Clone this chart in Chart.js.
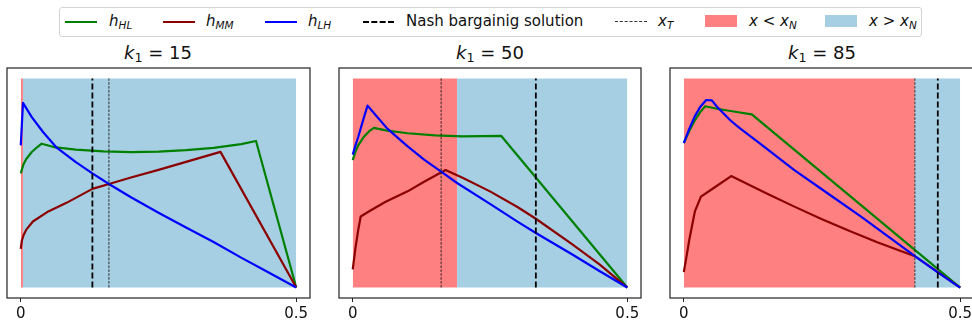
<!DOCTYPE html>
<html>
<head>
<meta charset="utf-8">
<script src="https://cdn.jsdelivr.net/npm/chart.js@4"></script>
<style>
  html, body { margin: 0; padding: 0; background: #fff; overflow: hidden; }
  body { width: 972px; height: 326px; position: relative; font-family: "DejaVu Sans", sans-serif; color: #111; }
  .legend { position: absolute; left: 59px; top: 7px; width: 861px; height: 28px; border: 1px solid #d4d4d4; border-radius: 3px; }
  .lg { position: absolute; font-size: 15px; line-height: 15px; top: 14px; white-space: nowrap; }
  .sw { position: absolute; }
  .title { position: absolute; top: 44px; font-size: 18px; line-height: 18px; width: 200px; text-align: center; white-space: nowrap; }
  i { font-style: oblique; }
  sub { font-size: 70%; vertical-align: -0.25em; line-height: 0; }
  canvas { position: absolute; }
</style>
</head>
<body>
<div class="legend"></div>
<div class="sw" style="left:65px;top:21px;width:32px;border-top:2px solid #008000"></div>
<span class="lg" style="left:109px"><i>h</i><sub><i>HL</i></sub></span>
<div class="sw" style="left:163px;top:21px;width:32px;border-top:2px solid #8b0000"></div>
<span class="lg" style="left:206px"><i>h</i><sub><i>MM</i></sub></span>
<div class="sw" style="left:265px;top:21px;width:32px;border-top:2px solid #0000ff"></div>
<span class="lg" style="left:308px"><i>h</i><sub><i>LH</i></sub></span>
<div class="sw" style="left:363px;top:21px;width:31px;border-top:2px dashed #000"></div>
<span class="lg" style="left:406px">Nash bargainig solution</span>
<div class="sw" style="left:615px;top:21px;width:32px;border-top:1px dashed #333"></div>
<span class="lg" style="left:658px"><i>x</i><sub><i>T</i></sub></span>
<div class="sw" style="left:705px;top:15px;width:32px;height:12px;background:#ff8080"></div>
<span class="lg" style="left:749px"><i>x</i> &lt; <i>x</i><sub><i>N</i></sub></span>
<div class="sw" style="left:825px;top:15px;width:32px;height:12px;background:#a6cfe3"></div>
<span class="lg" style="left:869px"><i>x</i> &gt; <i>x</i><sub><i>N</i></sub></span>

<div class="title" style="left:58px"><i>k</i><sub>1</sub> = 15</div>
<div class="title" style="left:390px"><i>k</i><sub>1</sub> = 50</div>
<div class="title" style="left:722px"><i>k</i><sub>1</sub> = 85</div>

<canvas id="c0" width="313" height="263" style="left:2px;top:63px"></canvas>
<canvas id="c1" width="312" height="263" style="left:334px;top:63px"></canvas>
<canvas id="c2" width="314" height="263" style="left:665px;top:63px"></canvas>

<script>
// panel parameters
const k1Values = [15, 50, 85];
const xNValues = [0.004, 0.19, 0.418];      // x < xN (red) / x > xN (blue)
const xTValues = [0.16, 0.161, 0.418];
const nashValues = [0.13, 0.3335, 0.4595];

// k1 = 15
const hHL15X = [0, 0.005, 0.01, 0.02, 0.03, 0.038, 0.06, 0.1, 0.15, 0.2, 0.25, 0.3, 0.35, 0.4, 0.427, 0.5];
const hHL15Y = [0.546, 0.59, 0.615, 0.648, 0.672, 0.688, 0.672, 0.66, 0.651, 0.648, 0.65, 0.657, 0.668, 0.686, 0.701, 0];
const hMM15X = [0, 0.002, 0.005, 0.01, 0.022, 0.05, 0.083, 0.13, 0.16, 0.2, 0.25, 0.3, 0.3625, 0.5];
const hMM15Y = [0.185, 0.225, 0.25, 0.277, 0.316, 0.364, 0.405, 0.472, 0.495, 0.526, 0.563, 0.601, 0.649, 0];
const hLH15X = [0, 0.004, 0.02, 0.04, 0.064, 0.1, 0.13, 0.16, 0.2, 0.25, 0.3, 0.35, 0.4, 0.45, 0.5];
const hLH15Y = [0.68, 0.883, 0.815, 0.745, 0.672, 0.6, 0.546, 0.495, 0.432, 0.358, 0.287, 0.218, 0.143, 0.072, 0];

// k1 = 50
const hHL50X = [0, 0.005, 0.01, 0.02, 0.03, 0.0387, 0.06, 0.1, 0.15, 0.2, 0.2706, 0.5];
const hHL50Y = [0.609, 0.65, 0.68, 0.72, 0.748, 0.764, 0.752, 0.738, 0.728, 0.723, 0.725, 0];
const hMM50X = [0, 0.005, 0.01, 0.0145, 0.03, 0.06, 0.1, 0.13, 0.169, 0.2, 0.25, 0.3, 0.3335, 0.4, 0.45, 0.5];
const hMM50Y = [0.087, 0.19, 0.275, 0.34, 0.365, 0.41, 0.46, 0.506, 0.562, 0.525, 0.46, 0.385, 0.329, 0.206, 0.11, 0];
const hLH50X = [0, 0.005, 0.01, 0.02, 0.027, 0.04, 0.063, 0.1, 0.13, 0.161, 0.19, 0.25, 0.3, 0.3335, 0.4, 0.45, 0.5];
const hLH50Y = [0.636, 0.68, 0.72, 0.81, 0.87, 0.83, 0.76, 0.675, 0.612, 0.554, 0.5, 0.4, 0.315, 0.261, 0.158, 0.078, 0];

// k1 = 85
const hHL85X = [0, 0.01, 0.02, 0.03, 0.0387, 0.06, 0.09, 0.123, 0.5];
const hHL85Y = [0.691, 0.75, 0.8, 0.84, 0.867, 0.855, 0.842, 0.828, 0];
const hMM85X = [0, 0.005, 0.01, 0.02, 0.031, 0.05, 0.0857, 0.15, 0.2, 0.25, 0.3, 0.35, 0.418, 0.45, 0.5];
const hMM85Y = [0.074, 0.15, 0.23, 0.364, 0.435, 0.469, 0.533, 0.45, 0.387, 0.327, 0.27, 0.217, 0.15, 0.092, 0];
const hLH85X = [0, 0.01, 0.02, 0.03, 0.0405, 0.0507, 0.06, 0.084, 0.1, 0.138, 0.2, 0.26, 0.32, 0.37, 0.418, 0.46, 0.5];
const hLH85Y = [0.691, 0.76, 0.82, 0.865, 0.897, 0.895, 0.865, 0.8, 0.765, 0.688, 0.562, 0.451, 0.34, 0.243, 0.15, 0.071, 0];

const curves = [
  [[hHL15X, hHL15Y], [hMM15X, hMM15Y], [hLH15X, hLH15Y]],
  [[hHL50X, hHL50Y], [hMM50X, hMM50Y], [hLH50X, hLH50Y]],
  [[hHL85X, hHL85Y], [hMM85X, hMM85Y], [hLH85X, hLH85Y]]
];
const curveColors = ['#008000', '#8b0000', '#0000ff'];
const curveOrder = [4, 3, 2]; // h_LH on top

const zip = (xs, ys) => xs.map((x, i) => ({ x: x, y: ys[i] }));

// box round the plot area, like matplotlib spines
const framePlugin = {
  id: 'frame',
  afterDraw(chart) {
    const { ctx, chartArea: a } = chart;
    ctx.save();
    ctx.strokeStyle = '#222';
    ctx.lineWidth = 1.2;
    ctx.strokeRect(a.left, a.top, a.right - a.left, a.bottom - a.top);
    ctx.restore();
  }
};

function vline(x, dash, width, color) {
  return {
    data: [{ x: x, y: 0 }, { x: x, y: 1 }],
    borderColor: color, borderWidth: width, borderDash: dash,
    pointRadius: 0, fill: false, order: 1
  };
}

function span(x0, x1, color) {
  return {
    data: [{ x: x0, y: 1 }, { x: x1, y: 1 }],
    borderWidth: 0, borderColor: 'rgba(0,0,0,0)', backgroundColor: color,
    pointRadius: 0, fill: 'origin', order: 9
  };
}

function makePanel(i) {
  const datasets = [];
  curves[i].forEach((c, j) => {
    datasets.push({
      data: zip(c[0], c[1]),
      borderColor: curveColors[j], borderWidth: 2.2,
      borderJoinStyle: 'round', pointRadius: 0, tension: 0,
      fill: false, order: curveOrder[j]
    });
  });
  datasets.push(vline(nashValues[i], [6, 3], 1.8, '#000'));
  datasets.push(vline(xTValues[i], [2.6, 1.3], 1, 'rgba(20,20,20,0.85)'));
  datasets.push(span(0, xNValues[i], '#ff8080'));
  datasets.push(span(xNValues[i], 0.5, '#a6cfe3'));

  new Chart(document.getElementById('c' + i), {
    type: 'line',
    data: { datasets: datasets },
    plugins: [framePlugin],
    options: {
      responsive: false,
      animation: false,
      layout: { padding: { left: 5, right: 5, top: 5, bottom: 0 } },
      plugins: { legend: { display: false }, tooltip: { enabled: false } },
      scales: {
        x: {
          type: 'linear', min: -0.025, max: 0.525,
          afterBuildTicks: s => { s.ticks = [{ value: 0 }, { value: 0.5 }]; },
          afterFit: s => { s.height = 28; },
          border: { display: false },
          grid: { drawOnChartArea: false, drawTicks: true, tickLength: 4, color: '#222' },
          ticks: {
            padding: 3, color: '#111', maxRotation: 0,
            font: { family: 'DejaVu Sans', size: 15 },
            callback: v => String(v)
          }
        },
        y: { type: 'linear', min: -0.05, max: 1.05, display: false }
      }
    }
  });
}

k1Values.forEach((k, i) => makePanel(i));
</script>
</body>
</html>
